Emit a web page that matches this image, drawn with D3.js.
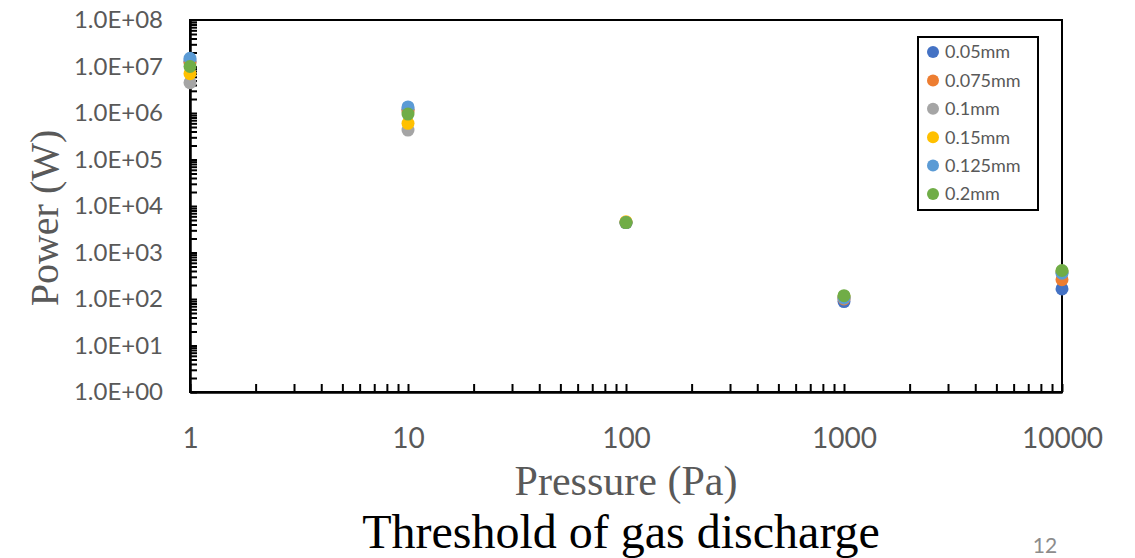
<!DOCTYPE html>
<html>
<head>
<meta charset="utf-8">
<script src="https://cdn.jsdelivr.net/npm/d3@7"></script>
<style>
  body { margin: 0; background: #fff; }
  .axis path { stroke: #000; stroke-width: 2.5; }
  .axis line { stroke: #000; stroke-width: 2; }
  .axis text { font-family: Lato, sans-serif; fill: #595959; }
</style>
</head>
<body>
<script>
// pressures (Pa)
var pressures = [1, 10, 100, 1000, 10000];
var seriesNames = ["0.05mm", "0.075mm", "0.1mm", "0.15mm", "0.125mm", "0.2mm"];
var seriesColors = ["#4472C4", "#ED7D31", "#A5A5A5", "#FFC000", "#5B9BD5", "#70AD47"];
// power (W), one array per gap, same order as pressures
var p005  = [1.3e7, 1.2e6, 4.4e3, 88, 165];
var p0075 = [1.2e7, 1.1e6, 4.4e3, 100, 260];
var p01   = [4.5e6, 4.3e5, 4.4e3, 105, 370];
var p015  = [7.0e6, 6.0e5, 4.6e3, 110, 390];
var p0125 = [1.5e7, 1.35e6, 4.4e3, 105, 360];
var p02   = [1.0e7, 9.5e5, 4.4e3, 118, 410];
var seriesValues = [p005, p0075, p01, p015, p0125, p02];

var yDecades = [1, 10, 100, 1e3, 1e4, 1e5, 1e6, 1e7, 1e8];
var yLabels = ["1.0E+00", "1.0E+01", "1.0E+02", "1.0E+03", "1.0E+04", "1.0E+05", "1.0E+06", "1.0E+07", "1.0E+08"];
var xLabels = ["1", "10", "100", "1000", "10000"];

var W = 1135, H = 558;
var plotL = 190, plotR = 1062, plotT = 20, plotB = 392;

var svg = d3.select("body").append("svg")
  .attr("width", W).attr("height", H);

var x = d3.scaleLog().domain([1, 10000]).range([plotL, plotR]);
var y = d3.scaleLog().domain([1, 1e8]).range([plotB, plotT]);

// all log ticks (1..9 per decade)
function logTicks(lo, hi) {
  var t = [];
  for (var d = lo; d < hi; d *= 10)
    for (var m = 1; m < 10; m++) t.push(d * m);
  t.push(hi);
  return t;
}

// frame (top / right)
svg.append("rect")
  .attr("x", plotL).attr("y", plotT)
  .attr("width", plotR - plotL).attr("height", plotB - plotT)
  .attr("fill", "none").attr("stroke", "#000").attr("stroke-width", 2);

var yAxis = d3.axisLeft(y)
  .tickValues(logTicks(1, 1e8))
  .tickSizeInner(-7).tickSizeOuter(0)
  .tickPadding(27)
  .tickFormat(function(d) {
    var i = yDecades.indexOf(d);
    return i >= 0 ? yLabels[i] : "";
  });
svg.append("g").attr("class", "axis")
  .attr("transform", "translate(" + plotL + ",0)")
  .call(yAxis)
  .selectAll("text").style("font-size", "24px");

var xAxis = d3.axisBottom(x)
  .tickValues(logTicks(1, 10000))
  .tickSizeInner(-8).tickSizeOuter(0)
  .tickPadding(36)
  .tickFormat(function(d) {
    var i = pressures.indexOf(d);
    return i >= 0 ? xLabels[i] : "";
  });
svg.append("g").attr("class", "axis")
  .attr("transform", "translate(0," + plotB + ")")
  .call(xAxis)
  .selectAll("text").style("font-size", "28px");

// points
seriesValues.forEach(function(vals, s) {
  svg.append("g").selectAll("circle")
    .data(vals).enter().append("circle")
    .attr("cx", function(d, i) { return x(pressures[i]); })
    .attr("cy", function(d) { return y(d); })
    .attr("r", 6.5)
    .attr("fill", seriesColors[s]);
});

// legend
var lg = svg.append("g");
lg.append("rect")
  .attr("x", 918).attr("y", 37).attr("width", 120).attr("height", 173)
  .attr("fill", "#fff").attr("stroke", "#000").attr("stroke-width", 2);
seriesNames.forEach(function(n, i) {
  var cy = 52 + i * 28.4;
  lg.append("circle").attr("cx", 933).attr("cy", cy).attr("r", 6)
    .attr("fill", seriesColors[i]);
  lg.append("text").attr("x", 945).attr("y", cy).attr("dy", "0.35em")
    .style("font-family", "Lato, sans-serif").style("font-size", "18px")
    .attr("fill", "#595959").text(n);
});

// axis titles
svg.append("text")
  .attr("transform", "translate(58,218) rotate(-90)")
  .attr("text-anchor", "middle")
  .style("font-family", "'Liberation Serif', 'Times New Roman', serif")
  .style("font-size", "40px").attr("fill", "#595959")
  .text("Power (W)");

svg.append("text")
  .attr("x", 626).attr("y", 495)
  .attr("text-anchor", "middle")
  .style("font-family", "'Liberation Serif', 'Times New Roman', serif")
  .style("font-size", "42px").attr("fill", "#595959")
  .text("Pressure (Pa)");

svg.append("text")
  .attr("x", 621).attr("y", 548)
  .attr("text-anchor", "middle")
  .style("font-family", "'Liberation Serif', 'Times New Roman', serif")
  .style("font-size", "48px").attr("fill", "#000")
  .text("Threshold of gas discharge");

svg.append("text")
  .attr("x", 1045).attr("y", 553)
  .attr("text-anchor", "middle")
  .style("font-family", "Lato, sans-serif")
  .style("font-size", "21px").attr("fill", "#8c8c8c")
  .text("12");
</script>
</body>
</html>
